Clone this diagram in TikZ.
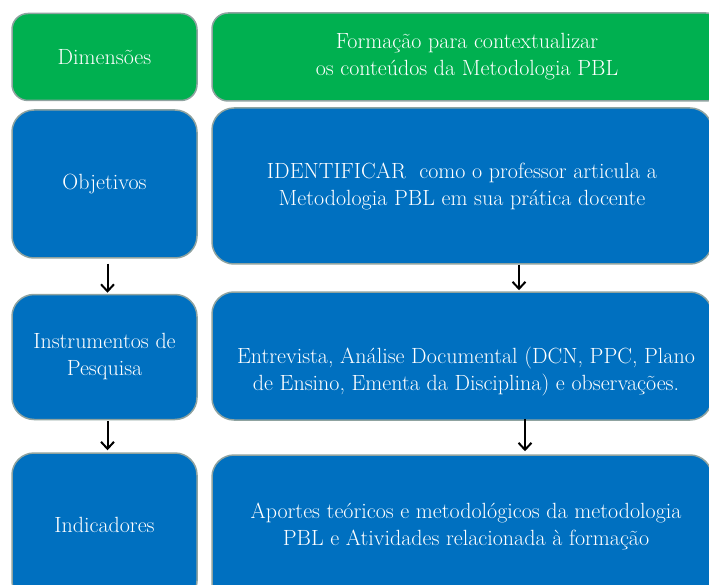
\documentclass[tikz,border=0pt]{standalone}
\usetikzlibrary{arrows.meta,calc}
\definecolor{pgreen}{HTML}{00B050}
\definecolor{pblue}{HTML}{0070C0}
\definecolor{pedge}{HTML}{8FA3A0}
\begin{document}
\begin{tikzpicture}[x=1pt,y=-1pt,
  box/.style={draw=pedge, line width=1.5pt, rounded corners=22pt, text=white,
    align=center, font=\rmfamily\fontsize{22}{27}\selectfont, inner sep=0pt},
  gbox/.style={box, fill=pgreen, rounded corners=16pt},
  bbox/.style={box, fill=pblue},
  txt/.style={text=white, align=center, font=\rmfamily\fontsize{22}{27}\selectfont, inner sep=0pt},
  arr/.style={draw=black, line width=2pt, -{Straight Barb[length=7pt,width=13pt,line width=2pt]}}]
\useasboundingbox (0,0) rectangle (709,585);
\clip (0,0) rectangle (709,585);
% left column
\node[gbox, minimum width=185pt, minimum height=87pt] (l1) at (104.5,57) {Dimensões};
\node[bbox, minimum width=185pt, minimum height=148pt] (l2) at (104.5,184) {Objetivos};
\node[bbox, minimum width=185pt, minimum height=125pt] (l3) at (104.5,357) {Instrumentos de\\Pesquisa};
\node[bbox, minimum width=185pt, minimum height=150pt] (l4) at (104.5,528) {};
\node[txt] at (104.5,525) {Indicadores};
% right column
\node[gbox, minimum width=510pt, minimum height=88pt] (r1) at (467,57) {Formação para contextualizar\\os conteúdos da Metodologia PBL};
\node[bbox, minimum width=500pt, minimum height=156pt] (r2) at (462,186) {IDENTIFICAR\ \ como o professor articula a\\Metodologia PBL em sua prática docente};
\node[bbox, minimum width=500pt, minimum height=128pt] (r3) at (462,356) {};
\node[txt] at (466,372) {Entrevista, Análise Documental (DCN, PPC, Plano\\de Ensino, Ementa da Disciplina) e observações.};
\node[bbox, minimum width=500pt, minimum height=150pt] (r4) at (462,530) {};
\node[txt] at (466,526) {Aportes teóricos e metodológicos da metodologia\\PBL e Atividades relacionada à formação};
% arrows
\draw[arr] ($(l2.south)+(3,5)$) -- ($(l3.north)+(3,-1)$);
\draw[arr] ($(l3.south)+(3,1)$) -- ($(l4.north)+(3,-2)$);
\draw[arr] ($(r2.south)+(57,0)$) -- ($(r3.north)+(57,-1)$);
\draw[arr] ($(r3.south)+(63,-2)$) -- ($(r4.north)+(63,-3)$);
\end{tikzpicture}
\end{document}
